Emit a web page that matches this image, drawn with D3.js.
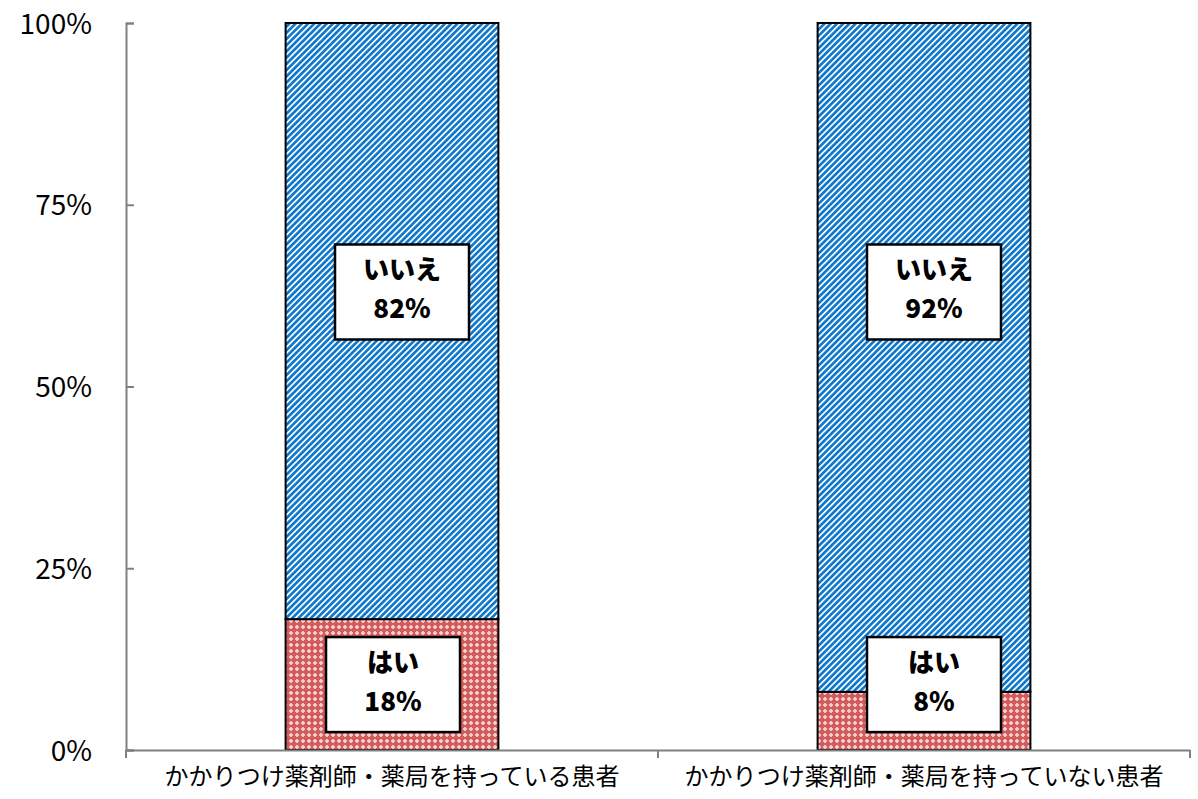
<!DOCTYPE html>
<html><head><meta charset="utf-8">
<script src="https://cdn.jsdelivr.net/npm/d3@7"></script>
<style>html,body{margin:0;padding:0;background:#fff;}svg{display:block;}</style>
</head><body>
<svg id="c" width="1198" height="799"></svg>
<script>
const categories = ["かかりつけ薬剤師・薬局を持っている患者", "かかりつけ薬剤師・薬局を持っていない患者"];
const seriesNames = ["はい", "いいえ"];
const hai = [0.18, 0.08];
const iie = [0.82, 0.92];
const yTicks = [0, 0.25, 0.5, 0.75, 1];

(function(){
const svg = d3.select("#c");
const mLeft = 126, mRight = 1190, mTop = 23, mBottom = 750;
const FONT = "'Noto Sans CJK JP', 'Noto Sans', sans-serif";

const defs = svg.append("defs");
const ps = defs.append("pattern").attr("id","stripe").attr("patternUnits","userSpaceOnUse")
  .attr("width",4.4).attr("height",4.4).attr("patternTransform","rotate(45)");
ps.append("rect").attr("width",4.4).attr("height",4.4).attr("fill","#ffffff");
ps.append("rect").attr("width",2.7).attr("height",4.4).attr("fill","#0f78cc");
const pr = defs.append("pattern").attr("id","grid").attr("patternUnits","userSpaceOnUse")
  .attr("width",6).attr("height",6);
pr.append("rect").attr("width",6).attr("height",6).attr("fill","#d25c5c");
pr.append("rect").attr("x",1).attr("y",2).attr("width",4).attr("height",2).attr("fill","#f2c0c0");
pr.append("rect").attr("x",2).attr("y",1).attr("width",2).attr("height",4).attr("fill","#f2c0c0");
pr.append("rect").attr("x",2.5).attr("y",2.5).attr("width",1).attr("height",1).attr("fill","#ffffff");

const x = d3.scaleBand().domain(categories).range([mLeft, mRight]).padding(0);
const y = d3.scaleLinear().domain([0, 1]).range([mBottom, mTop]);
const barW = x.bandwidth() * 0.4;

const data = categories.map((c, i) => ({cat: c, hai: hai[i], iie: iie[i]}));
const stack = d3.stack().keys(["hai", "iie"])(data);
const fills = {hai: "url(#grid)", iie: "url(#stripe)"};

svg.append("g").selectAll("g").data(stack).join("g")
  .attr("fill", d => fills[d.key])
  .selectAll("rect").data(d => d).join("rect")
  .attr("x", d => x(d.data.cat) + x.bandwidth()/2 - barW/2)
  .attr("y", d => y(d[1]))
  .attr("width", barW)
  .attr("height", d => y(d[0]) - y(d[1]))
  .attr("stroke", "#000").attr("stroke-width", 2);

const yAxis = svg.append("g").attr("transform", `translate(${mLeft},0)`)
  .call(d3.axisRight(y).tickValues(yTicks).tickFormat(d3.format(".0%")).tickSize(8));
yAxis.select(".domain").attr("stroke", "#808080").attr("stroke-width", 2);
yAxis.selectAll(".tick line").attr("stroke", "#808080").attr("stroke-width", 2);
yAxis.selectAll(".tick text").attr("x", -34).attr("text-anchor", "end")
  .style("font-family", FONT).style("font-size", "28px").attr("fill", "#000").attr("dy", "0.36em");

const xAxis = svg.append("g").attr("transform", `translate(0,${mBottom})`)
  .call(d3.axisBottom(x).tickSize(0).tickSizeOuter(0));
xAxis.select(".domain").attr("stroke", "#808080").attr("stroke-width", 2);
xAxis.selectAll(".tick text").style("font-family", FONT).style("font-size", "24px")
  .attr("fill", "#000").attr("y", 18).attr("dy", "0.71em");
const bounds = [mLeft, ...categories.slice(1).map(c => x(c)), mRight];
svg.append("g").selectAll("line").data(bounds).join("line")
  .attr("x1", d => d).attr("x2", d => d).attr("y1", mBottom).attr("y2", mBottom + 8)
  .attr("stroke", "#808080").attr("stroke-width", 2);

const boxW = 134, boxH = 95;
const labels = [];
data.forEach((d, i) => {
  const cx = x(d.cat) + x.bandwidth()/2;
  labels.push({name: seriesNames[1], v: d.iie, cx: cx + 10, cy: y(0.63)});
  labels.push({name: seriesNames[0], v: d.hai, cx: cx + (i === 0 ? 1 : 10), cy: y(0.09)});
});
const lg = svg.append("g").selectAll("g").data(labels).join("g");
lg.append("rect").attr("x", d => d.cx - boxW/2).attr("y", d => d.cy - boxH/2)
  .attr("width", boxW).attr("height", boxH).attr("fill", "#fff")
  .attr("stroke", "#000").attr("stroke-width", 2.5);
lg.append("text").attr("x", d => d.cx).attr("y", d => d.cy - 13)
  .attr("text-anchor", "middle").style("font-family", FONT).style("font-weight", "900")
  .style("font-size", "26px").text(d => d.name);
lg.append("text").attr("x", d => d.cx).attr("y", d => d.cy + 26)
  .attr("text-anchor", "middle").style("font-family", FONT).style("font-weight", "900")
  .style("font-size", "26px").text(d => d3.format(".0%")(d.v));
})();
</script>
</body></html>
